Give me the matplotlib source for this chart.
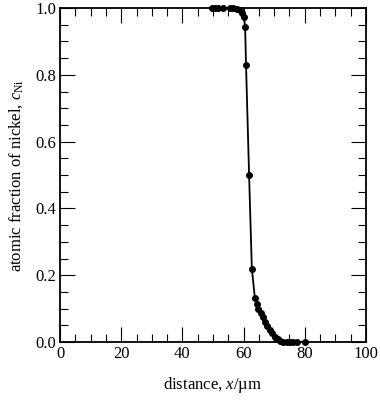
import matplotlib
matplotlib.use("Agg")
import matplotlib.pyplot as plt
from matplotlib.ticker import MultipleLocator

plt.rcParams['font.family'] = 'Liberation Serif'
plt.rcParams['mathtext.fontset'] = 'custom'
plt.rcParams['mathtext.rm'] = 'Liberation Serif'
plt.rcParams['mathtext.it'] = 'Liberation Serif:italic'

# data
distance = [49.7, 50.7, 51.7, 53.4, 55.6, 56.6, 57.7, 58.8, 59.6, 60.1, 60.5, 60.8,
            61.8, 62.7, 63.7, 64.3, 64.8, 65.6, 66.2, 67.0, 67.7, 68.6, 69.4, 70.3,
            71.1, 71.9, 73.0, 74.1, 75.2, 76.3, 77.4, 80.1]
c_ni = [1.0, 1.0, 1.0, 1.0, 1.0, 0.999, 0.998, 0.994, 0.984, 0.974, 0.944, 0.83,
        0.5, 0.22, 0.131, 0.114, 0.100, 0.086, 0.074, 0.061, 0.049, 0.036, 0.026, 0.016,
        0.008, 0.003, 0.0, 0.0, 0.0, 0.0, 0.0, 0.0]

fig = plt.figure(figsize=(3.8, 4.01), dpi=100)
ax = fig.add_axes([0.158, 0.147, 0.805, 0.833])

ax.plot(distance, c_ni, color='black', lw=1.3, marker='o', ms=4, clip_on=False, zorder=3)

ax.set_xlim(0, 100)
ax.set_ylim(0, 1.0)
ax.xaxis.set_major_locator(MultipleLocator(20))
ax.xaxis.set_minor_locator(MultipleLocator(5))
ax.yaxis.set_major_locator(MultipleLocator(0.2))
ax.yaxis.set_minor_locator(MultipleLocator(0.05))
ax.set_yticks([0.0, 0.2, 0.4, 0.6, 0.8, 1.0])
ax.set_yticklabels(['0.0', '0.2', '0.4', '0.6', '0.8', '1.0'])

ax.tick_params(which='both', direction='in', top=True, right=True, labelsize=12, width=0.8)
ax.tick_params(which='major', length=11, pad=3)
ax.tick_params(which='minor', length=6)
for s in ax.spines.values():
    s.set_linewidth(1.3)

ax.set_xlabel('distance, $x$/µm', fontsize=12, labelpad=9)
ax.set_ylabel('atomic fraction of nickel, $c_{\\rm Ni}$', fontsize=12, labelpad=7)

fig.savefig('out.png', dpi=100)
